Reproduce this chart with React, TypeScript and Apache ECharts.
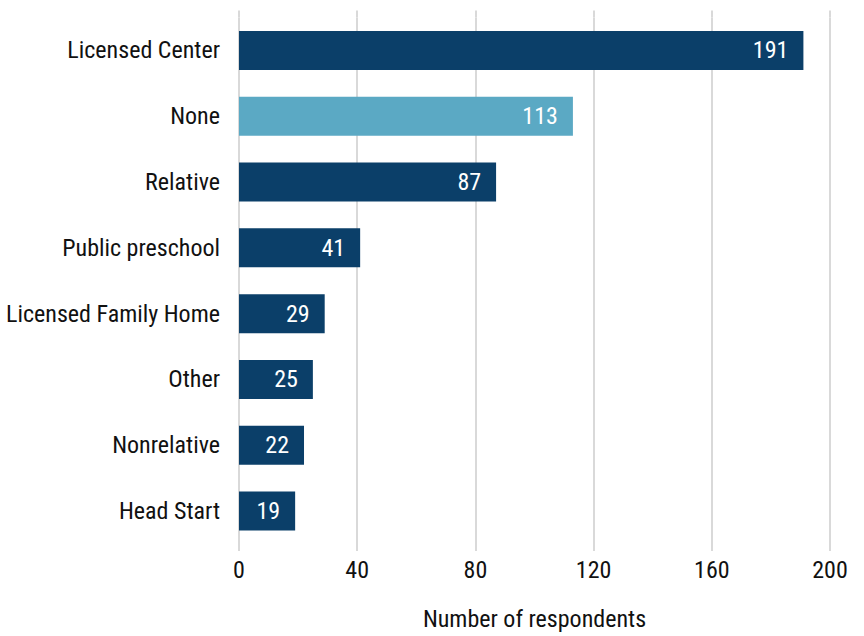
import React, { useEffect, useRef } from "react";
import * as echarts from "echarts";

const categories = [
  "Licensed Center",
  "None",
  "Relative",
  "Public preschool",
  "Licensed Family Home",
  "Other",
  "Nonrelative",
  "Head Start",
];
const values = [191, 113, 87, 41, 29, 25, 22, 19];
const highlightIndex = 1;
const xTicks = [0, 40, 80, 120, 160, 200];

const FONT = "'Roboto Condensed', 'Liberation Sans Narrow', 'Roboto', sans-serif";

export default function App() {
  const ref = useRef<HTMLDivElement>(null);
  useEffect(() => {
    if (!ref.current) return;
    const chart = echarts.init(ref.current, undefined, { renderer: "svg", width: 864, height: 636 });
    const gridColor = "#d9d9d9";
    chart.setOption({
      animation: false,
      textStyle: { fontFamily: FONT },
      grid: { left: 239, right: 34, top: 17.5, bottom: 75.5, containLabel: false },
      xAxis: [
        {
          type: "value",
          min: xTicks[0],
          max: xTicks[xTicks.length - 1],
          interval: 40,
          position: "bottom",
          axisLine: { show: false },
          axisTick: { show: true, length: 7, lineStyle: { color: gridColor, width: 2 } },
          splitLine: { show: true, lineStyle: { color: gridColor, width: 2 } },
          axisLabel: { fontSize: 24, color: "#111", margin: 14, fontFamily: FONT },
          name: "Number of respondents",
          nameLocation: "middle",
          nameGap: 63,
          nameTextStyle: { fontSize: 24, color: "#111", fontFamily: FONT },
        },
        {
          type: "value",
          min: xTicks[0],
          max: xTicks[xTicks.length - 1],
          interval: 40,
          position: "top",
          axisLine: { show: false },
          axisTick: { show: true, length: 7, lineStyle: { color: gridColor, width: 2 } },
          splitLine: { show: false },
          axisLabel: { show: false },
        },
      ],
      yAxis: {
        type: "category",
        data: categories,
        inverse: true,
        axisLine: { show: false },
        axisTick: { show: false },
        axisLabel: { fontSize: 24, color: "#111", margin: 19, fontFamily: FONT },
      },
      series: [
        {
          type: "bar",
          xAxisIndex: 0,
          barWidth: 39,
          data: values.map((v, i) => ({
            value: v,
            itemStyle: { color: i === highlightIndex ? "#5ba9c4" : "#0b3f69" },
          })),
          label: {
            show: true,
            position: "insideRight",
            distance: 15,
            color: "#fff",
            fontSize: 24,
            fontFamily: FONT,
          },
        },
      ],
    });
    return () => chart.dispose();
  }, []);
  return (
    <div
      ref={ref}
      style={{ position: "fixed", left: 0, top: 0, width: 864, height: 636, background: "#fff" }}
    />
  );
}
